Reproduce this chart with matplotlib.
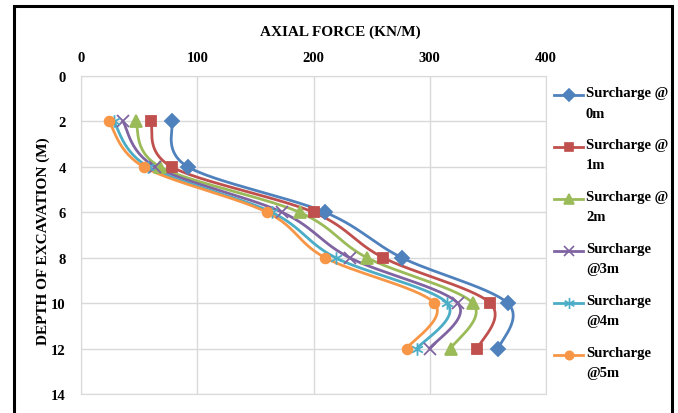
import numpy as np
import matplotlib
matplotlib.use("Agg")
import matplotlib.pyplot as plt
from matplotlib.path import Path
from matplotlib.lines import Line2D
from matplotlib.patches import Rectangle

plt.rcParams['font.family'] = ['Liberation Serif', 'DejaVu Serif']
plt.rcParams['font.weight'] = 'bold'
plt.rcParams['axes.labelweight'] = 'bold'

# data
depth = [2, 4, 6, 8, 10, 12]
force_0m = [78, 92, 210, 276, 367, 359]
force_1m = [60, 78, 200, 260, 352, 341]
force_2m = [47, 68, 188, 246, 337, 318]
force_3m = [36, 64, 173, 231, 324, 300]
force_4m = [28, 58, 164, 219, 315, 289]
force_5m = [24, 54, 160, 210, 304, 280]
labels = ['Surcharge @\n0m', 'Surcharge @\n1m', 'Surcharge @\n2m',
          'Surcharge\n@3m', 'Surcharge\n@4m', 'Surcharge\n@5m']
colors = ['#4F81BD', '#C0504D', '#9BBB59', '#8064A2', '#4BACC6', '#F79646']

star = Path([(0, -1), (0, 1), (-0.87, -0.5), (0.87, 0.5), (-0.87, 0.5), (0.87, -0.5)],
            [Path.MOVETO, Path.LINETO, Path.MOVETO, Path.LINETO, Path.MOVETO, Path.LINETO])
markers = ['D', 's', '^', 'x', star, 'o']
msizes = [7, 7, 8, 8, 9, 7]

W, H = 678, 414
fig = plt.figure(figsize=(W / 100, H / 100), dpi=100)
ax = fig.add_axes([81 / W, 1 - 395 / H, 465 / W, 318 / H])

# pixel scale used for excel-like smoothing
sx = 465 / 400.0
sy = 318 / 14.0


def smooth(xs, ys, n=30):
    p = np.column_stack([np.asarray(xs) * sx, np.asarray(ys) * sy])
    out = [p[0]]
    for i in range(len(p) - 1):
        p0 = p[i - 1] if i > 0 else p[i]
        p1, p2 = p[i], p[i + 1]
        p3 = p[i + 2] if i + 2 < len(p) else p[i + 1]
        c1 = p1 + (p2 - p0) / 6.0
        c2 = p2 - (p3 - p1) / 6.0
        t = np.linspace(0, 1, n)[1:, None]
        seg = ((1 - t) ** 3) * p1 + 3 * ((1 - t) ** 2) * t * c1 + 3 * (1 - t) * t ** 2 * c2 + t ** 3 * p2
        out.extend(seg)
    out = np.array(out)
    return out[:, 0] / sx, out[:, 1] / sy


series = [force_0m, force_1m, force_2m, force_3m, force_4m, force_5m]
for vals, c, m, ms in zip(series, colors, markers, msizes):
    cx, cy = smooth(vals, depth)
    ax.plot(cx, cy, color=c, lw=2, zorder=3)
    ax.plot(vals, depth, ls='none', marker=m, color=c, ms=ms, mew=1.3, zorder=4)

ax.set_xlim(0, 400)
ax.set_ylim(14, 0)
ax.set_xticks(range(0, 401, 100))
ax.set_yticks(range(0, 15, 2))
ax.xaxis.tick_top()
ax.xaxis.set_label_position('top')
ax.tick_params(length=0, labelsize=10.5)
ax.tick_params(axis='x', pad=8.5)
ax.tick_params(axis='y', pad=11)
ax.grid(True, color='#D9D9D9', lw=1)
ax.set_axisbelow(True)
for s in ax.spines.values():
    s.set_color('#D9D9D9')
ax.set_xlabel('AXIAL FORCE (KN/M)', fontsize=11)
ax.set_ylabel('DEPTH OF EXCAVATION (M)', fontsize=11)
ax.xaxis.set_label_coords(0.557, 1.129)
ax.yaxis.set_label_coords(-0.067, 0.483)

# legend, handle aligned with first text line like excel
for i, (lab, c, m, ms) in enumerate(zip(labels, colors, markers, msizes)):
    yy = 1 - (96 + i * 51.9) / H
    fig.add_artist(Line2D([554 / W, 583 / W], [yy, yy], color=c, lw=2,
                          transform=fig.transFigure))
    fig.add_artist(Line2D([568.5 / W], [yy], color=c, marker=m, ms=ms - 1, mew=1.2,
                          transform=fig.transFigure))
    fig.text(586 / W, yy + 9 / H, lab, fontsize=10.5, va='top', ha='left',
             linespacing=1.75)

# outer frame
fig.add_artist(Rectangle((14 / W, -0.1), 658 / W, 1.1 - 7 / H, fill=False,
                         ec='black', lw=2.2, transform=fig.transFigure))

fig.savefig('out.png', dpi=100)
